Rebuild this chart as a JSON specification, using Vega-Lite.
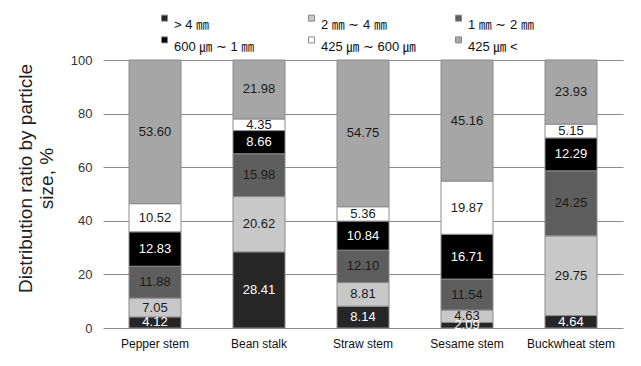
{
  "$schema": "https://vega.github.io/schema/vega-lite/v6.json",
  "width": 520,
  "height": 268,
  "autosize": {"type": "none"},
  "padding": {"left": 103, "top": 60, "right": 18, "bottom": 38},
  "background": "white",
  "config": {
    "view": {"stroke": null},
    "font": "Liberation Sans",
    "axis": {"labelFont": "Liberation Sans", "titleFont": "Liberation Sans"},
    "legend": {"labelFont": "Liberation Sans, Noto Sans CJK KR"}
  },
  "data": {
    "values": [
      {"stem": "Pepper stem", "size": "> 4 ㎜", "k": 1, "value": 4.12},
      {"stem": "Pepper stem", "size": "2 ㎜ ∼ 4 ㎜", "k": 2, "value": 7.05},
      {"stem": "Pepper stem", "size": "1 ㎜ ∼ 2 ㎜", "k": 3, "value": 11.88},
      {"stem": "Pepper stem", "size": "600 ㎛ ∼ 1 ㎜", "k": 4, "value": 12.83},
      {"stem": "Pepper stem", "size": "425 ㎛ ∼ 600 ㎛", "k": 5, "value": 10.52},
      {"stem": "Pepper stem", "size": "425 ㎛ <", "k": 6, "value": 53.60},
      {"stem": "Bean stalk", "size": "> 4 ㎜", "k": 1, "value": 28.41},
      {"stem": "Bean stalk", "size": "2 ㎜ ∼ 4 ㎜", "k": 2, "value": 20.62},
      {"stem": "Bean stalk", "size": "1 ㎜ ∼ 2 ㎜", "k": 3, "value": 15.98},
      {"stem": "Bean stalk", "size": "600 ㎛ ∼ 1 ㎜", "k": 4, "value": 8.66},
      {"stem": "Bean stalk", "size": "425 ㎛ ∼ 600 ㎛", "k": 5, "value": 4.35},
      {"stem": "Bean stalk", "size": "425 ㎛ <", "k": 6, "value": 21.98},
      {"stem": "Straw stem", "size": "> 4 ㎜", "k": 1, "value": 8.14},
      {"stem": "Straw stem", "size": "2 ㎜ ∼ 4 ㎜", "k": 2, "value": 8.81},
      {"stem": "Straw stem", "size": "1 ㎜ ∼ 2 ㎜", "k": 3, "value": 12.10},
      {"stem": "Straw stem", "size": "600 ㎛ ∼ 1 ㎜", "k": 4, "value": 10.84},
      {"stem": "Straw stem", "size": "425 ㎛ ∼ 600 ㎛", "k": 5, "value": 5.36},
      {"stem": "Straw stem", "size": "425 ㎛ <", "k": 6, "value": 54.75},
      {"stem": "Sesame stem", "size": "> 4 ㎜", "k": 1, "value": 2.09},
      {"stem": "Sesame stem", "size": "2 ㎜ ∼ 4 ㎜", "k": 2, "value": 4.63},
      {"stem": "Sesame stem", "size": "1 ㎜ ∼ 2 ㎜", "k": 3, "value": 11.54},
      {"stem": "Sesame stem", "size": "600 ㎛ ∼ 1 ㎜", "k": 4, "value": 16.71},
      {"stem": "Sesame stem", "size": "425 ㎛ ∼ 600 ㎛", "k": 5, "value": 19.87},
      {"stem": "Sesame stem", "size": "425 ㎛ <", "k": 6, "value": 45.16},
      {"stem": "Buckwheat stem", "size": "> 4 ㎜", "k": 1, "value": 4.64},
      {"stem": "Buckwheat stem", "size": "2 ㎜ ∼ 4 ㎜", "k": 2, "value": 29.75},
      {"stem": "Buckwheat stem", "size": "1 ㎜ ∼ 2 ㎜", "k": 3, "value": 24.25},
      {"stem": "Buckwheat stem", "size": "600 ㎛ ∼ 1 ㎜", "k": 4, "value": 12.29},
      {"stem": "Buckwheat stem", "size": "425 ㎛ ∼ 600 ㎛", "k": 5, "value": 5.15},
      {"stem": "Buckwheat stem", "size": "425 ㎛ <", "k": 6, "value": 23.93}
    ]
  },
  "transform": [
    {"stack": "value", "groupby": ["stem"], "sort": [{"field": "k", "order": "ascending"}], "as": ["v0", "v1"]},
    {"calculate": "(datum.v0 + datum.v1) / 2", "as": "mid"}
  ],
  "encoding": {
    "x": {
      "field": "stem", "type": "nominal",
      "sort": ["Pepper stem", "Bean stalk", "Straw stem", "Sesame stem", "Buckwheat stem"],
      "scale": {"paddingInner": 0.5, "paddingOuter": 0.25},
      "axis": {"title": null, "labelAngle": 0, "ticks": false, "domain": false, "labelFontSize": 12, "labelColor": "#111", "labelPadding": 10}
    }
  },
  "layer": [
    {
      "mark": {"type": "bar", "stroke": "#8a8a8a", "strokeWidth": 1},
      "encoding": {
        "y": {
          "field": "v0", "type": "quantitative",
          "scale": {"domain": [0, 100]},
          "axis": {
            "values": [0, 20, 40, 60, 80, 100],
            "title": ["Distribution ratio by particle", "size, %"],
            "titleFontSize": 19, "titleFontWeight": "normal", "titleColor": "#222",
            "titlePadding": 14, "titleY": 118,
            "labelFontSize": 13, "labelColor": "#333", "labelPadding": 11,
            "domain": false, "ticks": false,
            "grid": true, "gridColor": "#8c8c8c", "gridWidth": 1
          }
        },
        "y2": {"field": "v1"},
        "color": {
          "field": "size", "type": "nominal",
          "scale": {
            "domain": ["> 4 ㎜", "2 ㎜ ∼ 4 ㎜", "1 ㎜ ∼ 2 ㎜", "600 ㎛ ∼ 1 ㎜", "425 ㎛ ∼ 600 ㎛", "425 ㎛ <"],
            "range": ["#262626", "#c8c8c8", "#5e5e5e", "#000000", "#ffffff", "#a6a6a6"]
          },
          "legend": {
            "title": null, "orient": "none", "legendX": 55, "legendY": -42,
            "direction": "horizontal", "columns": 3, "gridAlign": "all",
            "columnPadding": 36, "rowPadding": 2,
            "symbolType": "M-1,-3.2H1V-1.2H-1Z", "symbolSize": 36, "symbolStrokeColor": "#888", "symbolStrokeWidth": 1,
            "labelFontSize": 13, "labelColor": "#111", "labelOffset": 3
          }
        }
      }
    },
    {
      "mark": {"type": "text", "fontSize": 13, "baseline": "middle", "align": "center"},
      "encoding": {
        "y": {"field": "mid", "type": "quantitative"},
        "text": {"field": "value", "type": "quantitative", "format": ".2f"},
        "color": {
          "condition": {"test": "datum.k === 1 || datum.k === 4", "value": "#ffffff"},
          "value": "#1a1a1a"
        }
      }
    }
  ]
}
